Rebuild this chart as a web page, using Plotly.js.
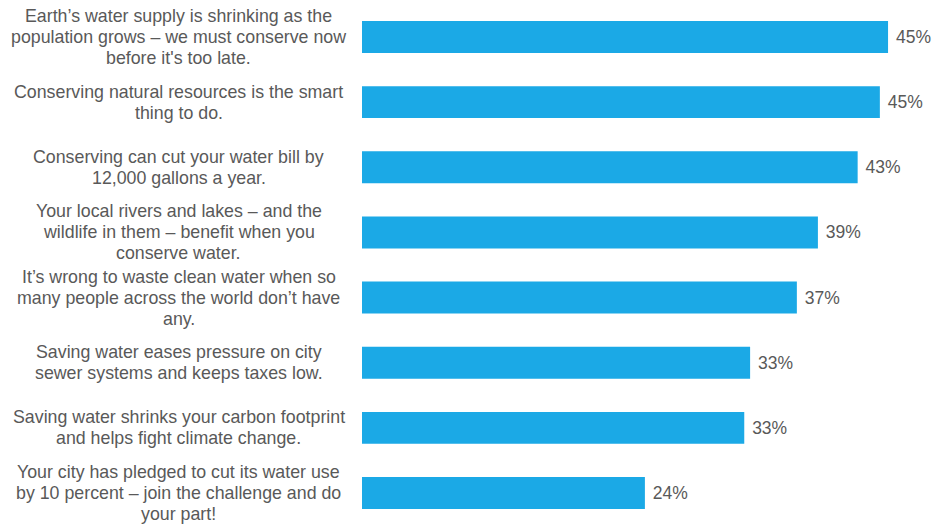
<!DOCTYPE html>
<html>
<head>
<meta charset="utf-8">
<script src="https://cdn.plot.ly/plotly-3.0.1.min.js"></script>
<style>html,body{margin:0;padding:0;background:#fff;}#chart{width:932px;height:528px;}</style>
</head>
<body>
<div id="chart"></div>
<script>
var categories = [
  "Earth’s water supply is shrinking as the<br>population grows – we must conserve now<br>before it's too late.",
  "Conserving natural resources is the smart<br>thing to do.",
  "Conserving can cut your water bill by<br>12,000 gallons a year.",
  "Your local rivers and lakes – and the<br>wildlife in them – benefit when you<br>conserve water.",
  "It’s wrong to waste clean water when so<br>many people across the world don’t have<br>any.",
  "Saving water eases pressure on city<br>sewer systems and keeps taxes low.",
  "Saving water shrinks your carbon footprint<br>and helps fight climate change.",
  "Your city has pledged to cut its water use<br>by 10 percent – join the challenge and do<br>your part!"
];
var values = [45.0, 44.3, 42.4, 39.0, 37.2, 33.2, 32.7, 24.2];
var valueLabels = ["45%", "45%", "43%", "39%", "37%", "33%", "33%", "24%"];

var FONT = 'Liberation Sans, Arial, sans-serif';

var trace = {
  type: 'bar',
  orientation: 'h',
  y: categories,
  x: values,
  text: valueLabels,
  texttemplate: ' %{text}',
  textposition: 'outside',
  cliponaxis: false,
  textfont: {family: FONT, size: 17.5, color: '#595959'},
  marker: {color: '#1BA9E6'},
  width: 0.49,
  hoverinfo: 'none'
};

var annotations = [];
categories.forEach(function(c) {
  var lines = c.split('<br>');
  var n = lines.length;
  lines.forEach(function(line, i) {
    annotations.push({
      xref: 'paper', yref: 'y', x: -0.3211, y: c,
      yshift: ((n - 1) / 2 - i) * 21,
      text: line, showarrow: false, xanchor: 'center', yanchor: 'middle', align: 'center',
      font: {family: FONT, size: 17.8, color: '#595959'}
    });
  });
});

var layout = {
  width: 932, height: 528,
  margin: {l: 362, r: 0, t: 4, b: 2, pad: 0},
  paper_bgcolor: '#ffffff', plot_bgcolor: '#ffffff',
  showlegend: false,
  xaxis: {range: [0, 48.76], visible: false, fixedrange: true},
  yaxis: {autorange: 'reversed', showticklabels: false, showgrid: false, zeroline: false, showline: false, ticks: ''},
  annotations: annotations,
  bargap: 0.51
};

Plotly.newPlot('chart', [trace], layout, {displayModeBar: false, staticPlot: true});
</script>
</body>
</html>
